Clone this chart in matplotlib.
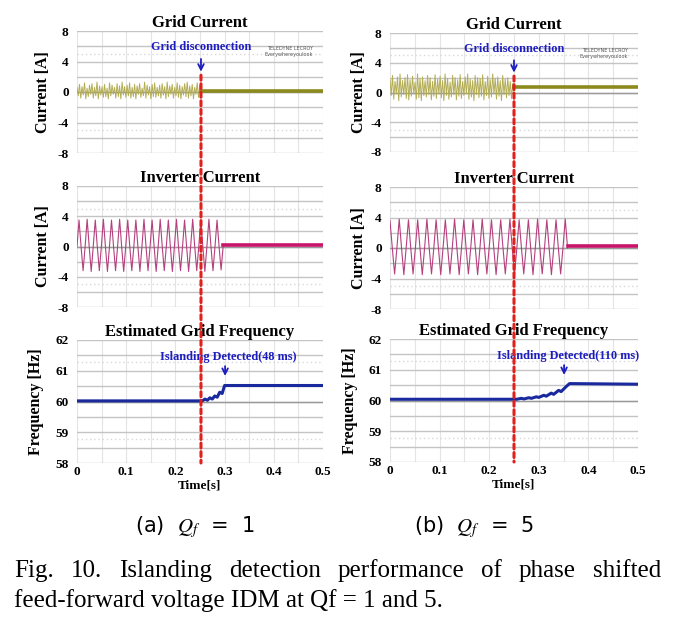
import numpy as np
import matplotlib
matplotlib.use("Agg")
import matplotlib.pyplot as plt
from matplotlib.patches import ConnectionPatch

plt.rcParams["font.family"] = ["Liberation Serif", "DejaVu Serif"]
plt.rcParams["mathtext.fontset"] = "stix"

# ---- data ----
x_ticks = [0, 0.1, 0.2, 0.3, 0.4, 0.5]
x_tick_labels = ["0", "0.1", "0.2", "0.3", "0.4", "0.5"]
cur_ticks = [8, 4, 0, -4, -8]
freq_ticks = [62, 61, 60, 59, 58]

# grid current, (a) Qf = 1: zig-zag before disconnection, flat after
gc_a_hi = [0.6, 1.0, 0.7, 1.2, 0.5, 0.9, 1.1, 0.6, 1.3, 0.8, 0.7, 1.0, 0.5, 1.2, 0.9, 0.6, 1.1,
           0.8, 1.3, 0.7, 0.9, 1.2, 0.6, 1.0, 0.8, 1.1, 0.5, 1.3, 0.9, 0.7, 1.0, 1.2, 0.6, 0.9,
           1.1, 0.7, 1.3, 0.8, 1.0, 0.6, 1.2, 0.9, 0.7, 1.1, 1.3, 0.8, 1.0, 0.6, 1.2, 0.9]
gc_a_lo = [-0.5, -0.8, -0.4, -0.9, -0.6, -0.3, -0.8, -0.5, -0.9, -0.4, -0.7, -0.6, -0.9, -0.5,
           -0.3, -0.8, -0.6, -0.9, -0.4, -0.7, -0.5, -0.8, -0.6, -0.9, -0.3, -0.7, -0.5, -0.8,
           -0.4, -0.9, -0.6, -0.7, -0.5, -0.8, -0.4, -0.9, -0.6, -0.3, -0.8, -0.5, -0.7, -0.9,
           -0.4, -0.6, -0.8, -0.5, -0.9, -0.3, -0.7, -0.4]
gc_a_off = 0.15
t_disc_a = 0.252

# grid current, (b) Qf = 5
gc_b_hi = [1.8, 2.3, 1.5, 2.1, 2.5, 1.6, 2.0, 2.4, 1.7, 2.2, 1.4, 2.5, 1.9, 2.1, 1.6, 2.3, 2.0,
           1.5, 2.4, 1.8, 2.2, 1.6, 2.5, 1.9, 1.4, 2.3, 2.0, 1.7, 2.4, 1.5, 2.1, 2.5, 1.8, 1.6,
           2.3, 2.0, 1.9, 2.4, 1.5, 2.2, 1.7, 2.5, 1.9, 2.1, 1.6, 2.3, 1.8, 2.0, 1.5, 1.2]
gc_b_lo = [-0.4, -0.9, -0.2, -1.1, -0.6, -0.3, -0.8, -1.0, -0.5, -0.2, -0.9, -0.7, -1.1, -0.4,
           -0.6, -0.3, -1.0, -0.5, -0.8, -0.2, -0.7, -1.1, -0.4, -0.9, -0.6, -0.3, -1.0, -0.5,
           -0.8, -0.4, -0.2, -0.9, -0.6, -1.1, -0.3, -0.7, -0.5, -1.0, -0.4, -0.8, -0.6, -0.2,
           -0.9, -0.5, -1.1, -0.3, -0.7, -0.4, -0.8, 0.0]
gc_b_off = 0.7
t_disc_b = 0.25

# inverter current peaks / troughs per cycle
inv_a_pk = [3.5, 3.6, 3.5, 3.6, 3.5, 3.6, 3.5, 3.5, 3.6, 3.5, 3.6, 3.5, 3.6, 3.5, 3.6, 3.5, 3.6, 3.5]
inv_a_tr = [-3.2, -3.3, -3.2, -3.3, -3.2, -3.3, -3.2, -3.3, -3.2, -3.3, -3.2, -3.3, -3.2, -3.3,
            -3.2, -3.3, -3.2, -3.1]
inv_a_stop = 0.297
inv_a_off = 0.15

inv_b_pk = [3.6, 3.8, 3.7, 3.7, 3.8, 3.7, 3.7, 3.8, 3.7, 3.7, 3.8, 3.7, 3.7, 3.8, 3.7, 3.7,
            3.8, 3.7, 3.7, 3.8]
inv_b_tr = [-3.4, -3.5, -3.4, -3.5, -3.4, -3.5, -3.4, -3.5, -3.4, -3.5, -3.4, -3.5, -3.4,
            -3.5, -3.4, -3.5, -3.4, -3.5, -3.4]
inv_b_stop = 0.358
inv_b_off = 0.25

# estimated frequency
fa_t = [0, 0.255, 0.26, 0.265, 0.27, 0.275, 0.28, 0.285, 0.29, 0.295, 0.30, 0.5]
fa_v = [60.02, 60.02, 60.08, 60.04, 60.12, 60.08, 60.18, 60.14, 60.30, 60.26, 60.52, 60.52]
fb_t = [0, 0.255, 0.265, 0.27, 0.28, 0.285, 0.295, 0.30, 0.31, 0.315, 0.325, 0.33, 0.34,
        0.345, 0.355, 0.362, 0.5]
fb_v = [60.04, 60.04, 60.07, 60.05, 60.09, 60.07, 60.12, 60.10, 60.17, 60.14, 60.24, 60.20,
        60.33, 60.29, 60.45, 60.55, 60.53]

# ---- helpers ----
def zigzag(hi, lo):
    seq = []
    for h, l in zip(hi, lo):
        seq += [h, l]
    return seq


def sine_like(pk, tr, start_at_peak):
    seq = []
    if start_at_peak:
        for i in range(len(tr)):
            seq += [pk[i], 0, tr[i], 0]
        seq.append(pk[len(tr)])
        seq.append(0)
    else:
        seq.append(0)
        for p, q in zip(pk, tr):
            seq += [p, 0, q, 0]
    return seq


W, H = 679, 617
fig = plt.figure(figsize=(W / 100, H / 100), dpi=100)


def box(l, t, r, b):
    return [l / W, 1 - b / H, (r - l) / W, (b - t) / H]


def style(ax, ylim, yticks, minor_step, dotted, dark, xlab):
    ax.set_xlim(0, 0.5)
    ax.set_ylim(*ylim)
    for s in ax.spines.values():
        s.set_visible(False)
    for xv in np.arange(0, 0.501, 0.05):
        ax.axvline(xv, color="#e4e4e4", lw=0.8, zorder=0)
    for yv in np.arange(ylim[0], ylim[1] + 1e-6, minor_step):
        ax.axhline(yv, color="#c4c4c4", lw=1.0, zorder=0)
    for yv in dotted:
        ax.axhline(yv, color="#d8d8d8", lw=1.0, ls=(0, (1, 2)), zorder=0)
    ax.axhline(dark, color="#9a9a9a", lw=1.0, zorder=0)
    ax.set_yticks(yticks)
    ax.set_yticklabels([str(v) for v in yticks], fontweight="bold", fontsize=9.5)
    ax.tick_params(length=0, pad=6)
    ax.set_xticks(x_ticks)
    if xlab:
        ax.set_xticklabels(x_tick_labels, fontweight="bold", fontsize=9.5)
        ax.tick_params(axis="x", pad=2)
        ax.set_xlabel("Time[s]", fontweight="bold", fontsize=9.5, labelpad=1)
    else:
        ax.set_xticklabels([])


col_grid_noise = "#b3ad55"
col_grid_flat = "#8c8a1c"
col_inv = "#b5407e"
col_inv_flat = "#c8156a"
col_freq = "#1a2a9e"
col_blue_txt = "#1c1cc0"
col_red = "#e0201c"

panels = [
    dict(l=77, r=323, tops=[(31, 153), (186, 307), (340, 463)], gc_hi=gc_a_hi, gc_lo=gc_a_lo,
         gc_off=gc_a_off, t_disc=t_disc_a, inv_pk=inv_a_pk, inv_tr=inv_a_tr, inv_stop=inv_a_stop,
         inv_off=inv_a_off, inv_peak_start=False, ft=fa_t, fv=fa_v,
         isl_txt="Islanding Detected(48 ms)", isl_x=0.301, isl_tx=0.307,
         lab_cur=43, lab_freq=36),
    dict(l=390, r=638, tops=[(33, 152), (187, 309), (339, 462)], gc_hi=gc_b_hi, gc_lo=gc_b_lo,
         gc_off=gc_b_off, t_disc=t_disc_b, inv_pk=inv_b_pk, inv_tr=inv_b_tr, inv_stop=inv_b_stop,
         inv_off=inv_b_off, inv_peak_start=True, ft=fb_t, fv=fb_v,
         isl_txt="Islanding Detected(110 ms)", isl_x=0.351, isl_tx=0.358,
         lab_cur=359, lab_freq=350),
]

for p in panels:
    (t1, b1), (t2, b2), (t3, b3) = p["tops"]
    ax1 = fig.add_axes(box(p["l"], t1, p["r"], b1))
    ax2 = fig.add_axes(box(p["l"], t2, p["r"], b2))
    ax3 = fig.add_axes(box(p["l"], t3, p["r"], b3))
    style(ax1, (-8, 8), cur_ticks, 2, [5, -5], 0, False)
    style(ax2, (-8, 8), cur_ticks, 2, [5, -5], 0, False)
    style(ax3, (58, 62), freq_ticks, 0.5, [61.27, 58.78], 60, True)

    # grid current
    g = zigzag(p["gc_hi"], p["gc_lo"])
    tg = np.linspace(0, p["t_disc"], len(g))
    ax1.plot(tg, g, color=col_grid_noise, lw=0.7)
    ax1.plot([p["t_disc"], 0.5], [p["gc_off"], p["gc_off"]], color=col_grid_flat, lw=2.6)
    ax1.set_title("Grid Current", fontweight="bold", fontsize=12, pad=2)
    ax1.text(0.96, 0.83, "TELEDYNE LECROY\nEverywhereyoulook", transform=ax1.transAxes,
             ha="right", va="center", fontsize=3.5, color="#555555", family="DejaVu Sans")
    ax1.annotate("", xy=(p["t_disc"], 2.3), xytext=(p["t_disc"], 4.7),
                 arrowprops=dict(arrowstyle="->", color=col_blue_txt, lw=1.3))
    ax1.text(p["t_disc"], 5.85, "Grid disconnection", ha="center", va="center",
             fontsize=8.8, fontweight="bold", color=col_blue_txt)

    # inverter current
    s = sine_like(p["inv_pk"], p["inv_tr"], p["inv_peak_start"])
    ts = np.linspace(0, p["inv_stop"], len(s))
    ax2.plot(ts, s, color=col_inv, lw=0.8)
    ax2.plot([p["inv_stop"], 0.5], [p["inv_off"], p["inv_off"]], color=col_inv_flat, lw=2.6)
    ax2.set_title("Inverter Current", fontweight="bold", fontsize=12, pad=2)

    # frequency
    ax3.plot(p["ft"], p["fv"], color=col_freq, lw=2.2)
    ax3.set_title("Estimated Grid Frequency", fontweight="bold", fontsize=12, pad=3)
    ax3.annotate("", xy=(p["isl_x"], 60.74), xytext=(p["isl_x"], 61.24),
                 arrowprops=dict(arrowstyle="->", color=col_blue_txt, lw=1.3))
    ax3.text(p["isl_tx"], 61.44, p["isl_txt"], ha="center", va="center",
             fontsize=8.8, fontweight="bold", color=col_blue_txt)

    # y labels
    fig.text(p["lab_cur"] / W, 1 - (t1 + b1) / 2 / H, "Current [A]", rotation=90,
             ha="center", va="center", fontsize=11.5, fontweight="bold")
    fig.text(p["lab_cur"] / W, 1 - (t2 + b2) / 2 / H, "Current [A]", rotation=90,
             ha="center", va="center", fontsize=11.5, fontweight="bold")
    fig.text(p["lab_freq"] / W, 1 - (t3 + b3) / 2 / H, "Frequency [Hz]", rotation=90,
             ha="center", va="center", fontsize=11.5, fontweight="bold")

    # red dashed disconnection marker through all three panels
    con = ConnectionPatch(xyA=(p["t_disc"], 2.2), coordsA=ax1.transData,
                          xyB=(p["t_disc"], 58), coordsB=ax3.transData,
                          color=col_red, lw=2.2, ls=(0, (1.6, 1.2)), zorder=10)
    fig.add_artist(con)

# sub captions
fig.text(195 / W, 1 - 532 / H, "(a)  $Q_f$  =  1", ha="center", va="baseline", fontsize=15,
         family=["DejaVu Sans"])
fig.text(474 / W, 1 - 532 / H, "(b)  $Q_f$  =  5", ha="center", va="baseline", fontsize=15,
         family=["DejaVu Sans"])

# figure caption, first line justified
cap1 = "Fig. 10. Islanding detection performance of phase shifted"
cap2 = "feed-forward voltage IDM at Qf = 1 and 5."
cap_size = 18
words = cap1.split()
objs = [fig.text(0, 1 - 577 / H, w, ha="left", va="baseline", fontsize=cap_size) for w in words]
fig.canvas.draw()
rend = fig.canvas.get_renderer()
widths = [o.get_window_extent(rend).width for o in objs]
gap = (661 - 14 - sum(widths)) / (len(words) - 1)
xpos = 14
for o, w in zip(objs, widths):
    o.set_x(xpos / W)
    xpos += w + gap
fig.text(14 / W, 1 - 607 / H, cap2, ha="left", va="baseline", fontsize=cap_size)

fig.savefig("out.png", dpi=100, facecolor="white")
